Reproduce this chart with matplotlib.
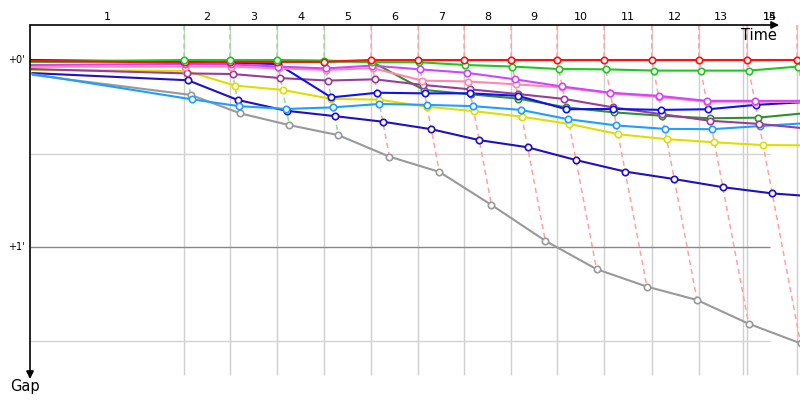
import matplotlib
matplotlib.use("Agg")
import matplotlib.pyplot as plt
import numpy as np

# ---------------- data ----------------
lap_numbers = list(range(0, 15))                       # lap 0 = start
lap_labels = [str(i) for i in range(1, 16)]
leader_times = [0, 262, 340, 420, 500, 580, 660, 738, 818, 896, 976, 1057, 1137, 1219, 1304]  # s
extra_grid_times = [1212]
lap_leader = ["green"] * 4 + ["red"] * 10             # leader for laps 1..14

# gap to leader (seconds) at the end of each lap (lap 0..14)
gap_red       = [0.3, 0.8, 0.6, 0.6, 0.6, 0.0, 0.0, 0.0, 0.0, 0.0, 0.0, 0.0, 0.0, 0.0, 0.0]
gap_green     = [0.6, 0.0, 0.0, 0.0, 0.2, 0.7, 0.7, 1.6, 2.1, 2.9, 3.0, 3.4, 3.4, 3.4, 2.1]
gap_blue      = [0.0, 0.6, 0.9, 1.3, 12.0, 10.5, 10.7, 10.7, 11.5, 15.8, 15.7, 16.0, 15.8, 14.4, 13.5]
gap_magenta   = [1.6, 1.3, 1.4, 2.1, 2.7, 1.8, 3.0, 4.1, 6.2, 8.5, 10.5, 11.5, 13.1, 13.1, 13.1]
gap_pink      = [2.2, 2.1, 2.1, 2.7, 3.2, 2.6, 6.6, 6.9, 7.8, 8.8, 10.7, 11.9, 13.4, 13.4, 13.4]
gap_purple    = [2.9, 4.3, 4.5, 5.8, 6.6, 6.2, 8.0, 9.4, 10.9, 12.5, 15.2, 17.4, 19.5, 20.5, 22.1]
gap_darkgreen = [0.6, 0.3, 0.3, 0.5, 0.5, 0.5, 9.6, 11.0, 12.4, 15.2, 16.8, 17.9, 18.7, 18.5, 17.0]
gap_skyblue   = [4.5, 12.6, 14.8, 15.7, 15.2, 14.1, 14.4, 14.8, 16.0, 19.0, 21.0, 22.1, 22.2, 21.2, 20.2]
gap_yellow    = [3.2, 3.5, 8.2, 9.6, 12.5, 12.7, 15.0, 16.4, 18.2, 20.5, 23.8, 25.4, 26.4, 27.3, 27.4]
gap_darkblue  = [4.2, 6.5, 12.8, 16.3, 18.0, 19.8, 22.2, 25.7, 28.0, 32.1, 35.8, 38.2, 40.8, 42.8, 44.0]
gap_gray      = [4.8, 11.2, 17.1, 20.9, 24.1, 31.0, 35.9, 46.5, 58.0, 67.1, 72.7, 77.0, 84.6, 90.9, 96.2]

series = [
    ("gray", gap_gray, "#999999"),
    ("darkblue", gap_darkblue, "#2010c0"),
    ("yellow", gap_yellow, "#dede00"),
    ("skyblue", gap_skyblue, "#1e9eff"),
    ("darkgreen", gap_darkgreen, "#2f8f2f"),
    ("purple", gap_purple, "#993d99"),
    ("blue", gap_blue, "#1010f0"),
    ("pink", gap_pink, "#ff88aa"),
    ("magenta", gap_magenta, "#d044ff"),
    ("green", gap_green, "#1ec81e"),
    ("red", gap_red, "#ff1010"),
]
lap_line_colors = {"green": "#9ad89a", "red": "#ffa2a2"}

# ---------------- layout ----------------
W, H = 800, 400
SX = 1.70          # seconds per pixel along time axis
SY = 1 / 3.117     # seconds per pixel along gap axis
X0, Y0 = 30, 60    # pixel position of time 0 / gap 0

def tx(px):
    return (px - X0) * SX

def gy(py):
    return (py - Y0) * SY

fig = plt.figure(figsize=(W / 100, H / 100), dpi=100)
ax = fig.add_axes([X0 / W, 0, (W - X0) / W, (H - 25) / H])
ax.set_xlim(tx(X0), tx(W))
ax.set_ylim(gy(H), gy(25))
ax.axis("off")

y_top, y_bot = gy(25), gy(375)

# gridlines
grid_t = sorted(leader_times[1:] + extra_grid_times)
ax.vlines(grid_t, y_top, y_bot, colors="#cfcfcf", lw=1, zorder=1)
for g in [30, 90]:
    ax.hlines(g, 0, tx(770), colors="#d2d2d2", lw=1, zorder=1)
for g in [0, 60]:
    ax.hlines(g, 0, tx(770), colors="#888888", lw=1, zorder=1)

# lap lines (dashed isochrones)
for k in range(1, len(leader_times)):
    pts = sorted((leader_times[k] + s[1][k], s[1][k]) for s in series)
    xs = [leader_times[k]] + [p[0] for p in pts]
    ys = [y_top] + [p[1] for p in pts]
    ax.plot(xs, ys, ls=(0, (3.5, 2.5)), lw=1.1, color=lap_line_colors[lap_leader[k - 1]], zorder=2)

# driver lines; the leader's markers are drawn on top
for i, (name, gaps, col) in enumerate(series):
    g = np.array(gaps)
    x = np.array(leader_times) + g
    ax.plot(x, g, color=col, lw=1.5, zorder=3 + i * 0.01, solid_joinstyle="round")
    xm, gm = x[1:], g[1:]
    lead = gm == 0
    ax.plot(xm[~lead], gm[~lead], ls="none", marker="o", ms=4.6, mfc="white", mec=col, mew=1.2,
            zorder=4 + i * 0.01)
    ax.plot(xm[lead], gm[lead], ls="none", marker="o", ms=4.6, mfc="white", mec=col, mew=1.2,
            zorder=4.5)

# axes arrows
ax.annotate("", xy=(tx(779), y_top), xytext=(0, y_top),
            arrowprops=dict(arrowstyle="-|>", color="black", lw=1.2, mutation_scale=11, shrinkA=0, shrinkB=0),
            annotation_clip=False, zorder=5)
ax.annotate("", xy=(0, gy(379)), xytext=(0, y_top),
            arrowprops=dict(arrowstyle="-|>", color="black", lw=1.2, mutation_scale=11, shrinkA=0, shrinkB=0),
            annotation_clip=False, zorder=5)

# lap labels on top axis
for i in range(13):
    mid = (grid_t[i - 1] if i > 0 else 0) + grid_t[i]
    ax.text(mid / 2, gy(17), lap_labels[i], ha="center", va="center", fontsize=8, clip_on=False)
for lbl in lap_labels[13:]:
    ax.text((extra_grid_times[0] + leader_times[-1]) / 2, gy(17), lbl, ha="center", va="center",
            fontsize=8, clip_on=False)

# gap labels
for g, lbl in [(0, "+0'"), (60, "+1'")]:
    ax.text(tx(25), g, lbl, ha="right", va="center", fontsize=7, clip_on=False)

fig.text(777 / W, 1 - 35 / H, "Time", ha="right", va="center", fontsize=10.5)
fig.text(25 / W, 1 - 386 / H, "Gap", ha="center", va="center", fontsize=10.5)

fig.savefig("out.png", dpi=100)
